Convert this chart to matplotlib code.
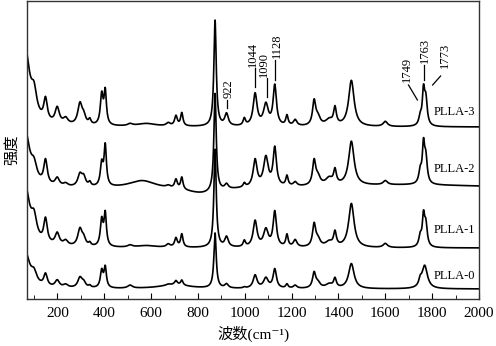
import numpy as np
import matplotlib
matplotlib.use("Agg")
import matplotlib.pyplot as plt
from matplotlib.ticker import MultipleLocator

plt.rcParams['font.family'] = ['Liberation Serif', 'DejaVu Serif', 'Noto Sans CJK SC']

# Raman bands (cm^-1) and half widths
centers = [100, 149, 199, 235, 296, 312, 338, 389, 404, 510, 580, 673, 706, 731,
           873, 922, 998, 1044, 1090, 1128, 1180, 1215, 1296, 1312, 1360, 1385,
           1455, 1600, 1749, 1763, 1773]
widths = [14, 9, 11, 12, 11, 10, 6, 7, 6, 12, 50, 10, 7, 6,
          6, 9, 6, 10, 12, 8.5, 6, 9, 8, 12, 18, 7,
          14, 11, 7, 6, 7]

# band heights per sample (plot units)
h_plla3 = [22, 22, 16, 6, 21, 8, 5, 30, 33, 2, 3, 3, 10, 13,
           106, 12, 7, 32, 21, 40, 10, 6, 24, 8, 6, 17,
           46, 5, 8, 33, 25]
h_plla2 = [14, 24, 8, 3, 12, 9, 4, 22, 40, 0, 0, 2, 9, 12,
           98, 5, 4, 27, 29, 38, 10, 4, 24, 8, 7, 14,
           44, 4, 12, 37, 24]
h_plla1 = [20, 24, 12, 5, 17, 7, 3, 26, 32, 2, 2, 3, 9, 13,
           98, 10, 6, 26, 17, 35, 12, 7, 22, 7, 5, 14,
           44, 4, 10, 29, 21]
h_plla0 = [10, 12, 7, 3, 10, 5, 2, 17, 20, 3, 0, 1, 4, 5,
           55, 4, 1, 13, 10, 19, 4, 3, 15, 5, 4, 9,
           25, 0, 6, 0, 0]

# low-frequency Rayleigh tail height per sample
tail = {'PLLA-3': 80, 'PLLA-2': 59, 'PLLA-1': 63, 'PLLA-0': 38}
# broad background features (center, height, half width)
broad = {
    'PLLA-3': [],
    'PLLA-2': [(562, 8, 70), (820, -6, 90), (1700, 4, 500)],
    'PLLA-1': [],
    'PLLA-0': [(700, 4, 80), (1768, 23, 14)],
}
offsets = {'PLLA-3': 172, 'PLLA-2': 110, 'PLLA-1': 51, 'PLLA-0': 10}
heights = {'PLLA-3': h_plla3, 'PLLA-2': h_plla2, 'PLLA-1': h_plla1, 'PLLA-0': h_plla0}
label_y = {'PLLA-3': 187, 'PLLA-2': 130, 'PLLA-1': 69, 'PLLA-0': 23}

# peak annotations: label, line x, line y0, line y1, text x, text y
marks = [
    ('922', 923, 191, 199, 932, 201),
    ('1044', 1043, 212, 231, 1034, 232),
    ('1090', 1094, 202, 221, 1082, 222),
    ('1128', 1129, 219, 239, 1137, 241),
    ('1763', 1767, 219, 234, 1771, 236),
]
slants = [
    ('1749', 1737, 199, 1699, 214, 1694, 217),
    ('1773', 1802, 214, 1836, 223, 1853, 231),
]


def lor(x, c, a, w):
    return a / (1 + ((x - c) / w) ** 2)


x = np.arange(70, 2001, 1.0)

fig = plt.figure(figsize=(4.96, 3.46), dpi=100)
ax = fig.add_axes([27 / 496, 47 / 346, 452 / 496, 298 / 346])

for name in ['PLLA-3', 'PLLA-2', 'PLLA-1', 'PLLA-0']:
    y = np.full_like(x, offsets[name]) + lor(x, 60, tail[name], 25)
    for c, a, w in zip(centers, heights[name], widths):
        y += lor(x, c, a, w)
    for c, a, w in broad[name]:
        y += lor(x, c, a, w)
    ax.plot(x, y, color='black', lw=1.2)
    ax.text(1985, label_y[name], name, ha='right', va='center', fontsize=9)

for lab, lx, y0, y1, tx, ty in marks:
    ax.plot([lx, lx], [y0, y1], color='black', lw=0.9)
    ax.text(tx, ty, lab, rotation=90, ha='center', va='bottom', fontsize=9)
for lab, x0, y0, x1, y1, tx, ty in slants:
    ax.plot([x0, x1], [y0, y1], color='black', lw=0.9)
    ax.text(tx, ty, lab, rotation=90, ha='center', va='bottom', fontsize=9)

ax.set_xlim(70, 2000)
ax.set_ylim(0, 298)
ax.xaxis.set_major_locator(MultipleLocator(200))
ax.xaxis.set_minor_locator(MultipleLocator(100))
ax.tick_params(axis='x', which='both', direction='in', labelsize=11, pad=6)
ax.tick_params(axis='x', which='major', length=4)
ax.tick_params(axis='x', which='minor', length=3)
ax.set_yticks([])
for s in ax.spines.values():
    s.set_linewidth(1.0)
    s.set_color('#333333')

ax.set_xlabel('波数(cm⁻¹)', fontsize=11, labelpad=4)
ax.set_ylabel('强度', fontsize=11, labelpad=6)

fig.savefig('out.png', dpi=100)
